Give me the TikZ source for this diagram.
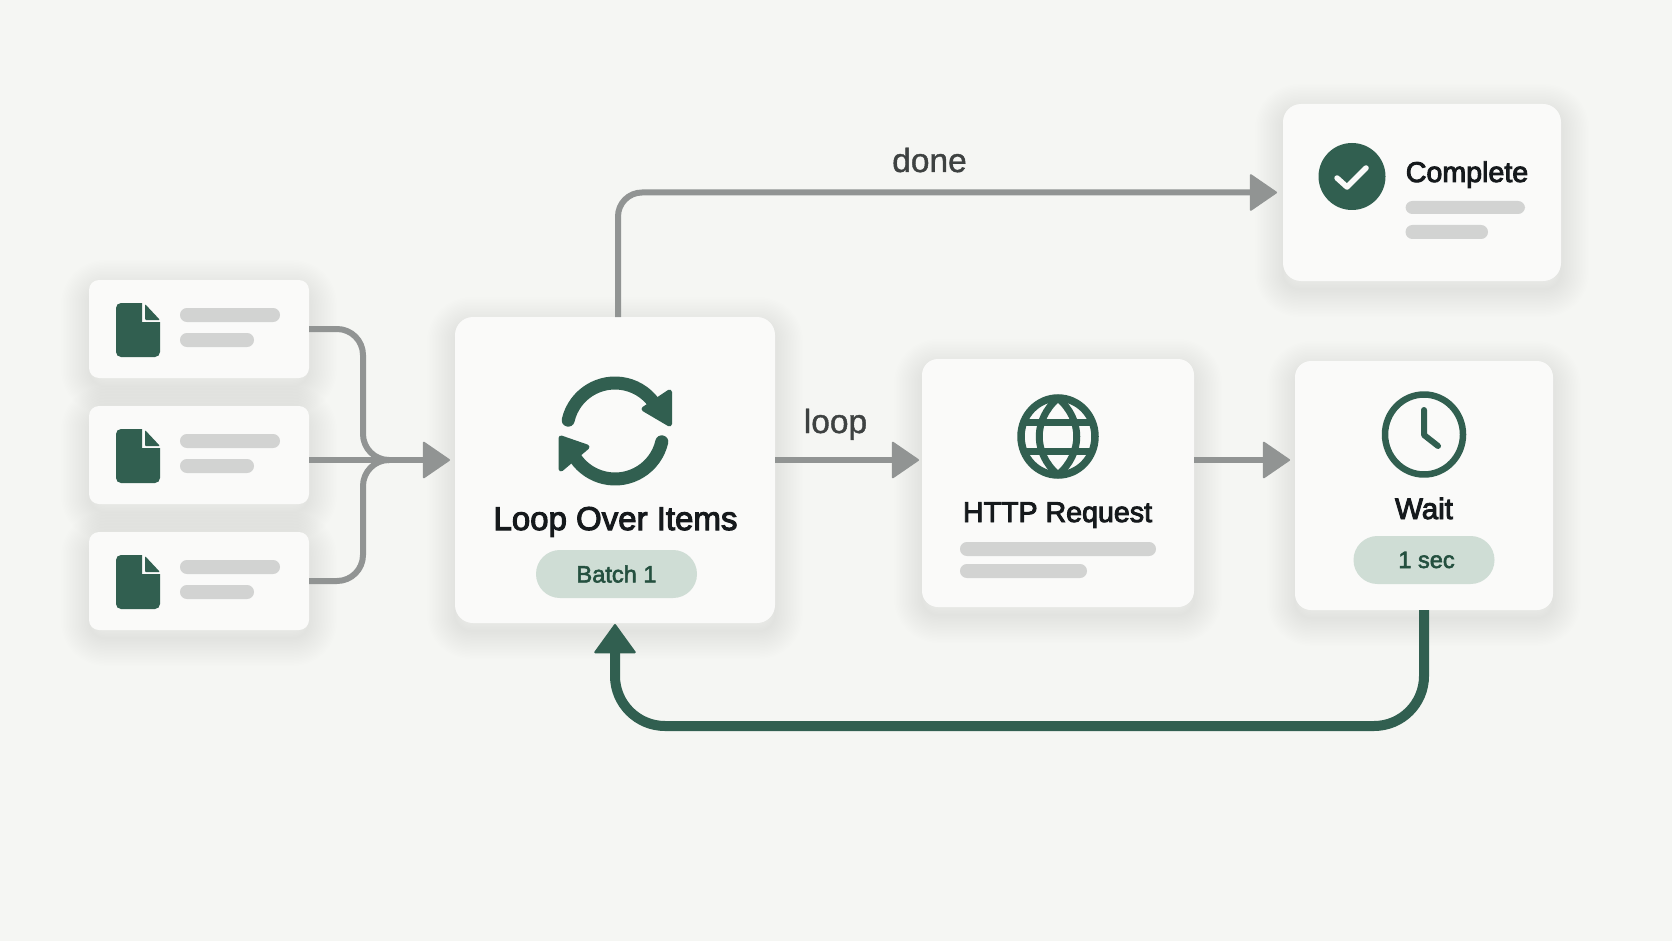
\documentclass[tikz,border=0pt]{standalone}
\usepackage{fontspec}
\usepackage{xcolor}
\usetikzlibrary{
    positioning,
    calc,
    arrows.meta,
    backgrounds
}
\setmainfont[FakeBold=1.2]{Liberation Sans}
\newfontfamily\titlefont[FakeBold=3.2]{Liberation Sans}
\newfontfamily\pillfont[FakeBold=2.4]{Liberation Sans}
\definecolor{Paper}{HTML}{F5F6F3}
\definecolor{CardWhite}{HTML}{FAFAF9}
\definecolor{GreenDark}{HTML}{315F50}
\definecolor{GreenPale}{HTML}{CFDDD5}
\definecolor{GreenText}{HTML}{24503F}
\definecolor{BarGrey}{HTML}{D2D3D2}
\definecolor{LineGrey}{HTML}{919493}
\definecolor{InkDark}{HTML}{15191C}
\definecolor{InkSoft}{HTML}{3E4241}
\tikzset{
    card/.style={
        fill=CardWhite,
        rounded corners=16pt,
        inner sep=0pt,
        outer sep=0pt
    },
    bar/.style={
        fill=BarGrey,
        rounded corners=6.9pt,
        minimum height=14pt,
        inner sep=0pt,
        outer sep=0pt
    },
    pill/.style={
        fill=GreenPale,
        rounded corners=23.9pt,
        minimum height=48pt,
        inner sep=0pt,
        outer sep=0pt,
        text=GreenText,
        font=\pillfont\fontsize{23.6}{28}\selectfont
    },
    cardtitle/.style={
        anchor=base,
        text=InkDark,
        inner sep=0pt,
        font=\titlefont\fontsize{28.6}{34}\selectfont
    },
    flowlabel/.style={
        anchor=base,
        text=InkSoft,
        inner sep=0pt,
        font=\fontsize{33.5}{40}\selectfont
    },
    flowline/.style={
        draw=LineGrey,
        line width=6pt,
        -{Triangle[length=28pt,width=38pt,line width=2pt,round]}
    },
    feedline/.style={
        draw=LineGrey,
        line width=6pt
    },
    returnline/.style={
        draw=GreenDark,
        line width=10pt,
        rounded corners=50pt,
        -{Triangle[length=30pt,width=43pt,line width=2pt,round]}
    },
    iconline/.style={
        draw=GreenDark,
        line cap=round,
        line join=round
    },
    iconhead/.style={
        fill=GreenDark,
        draw=GreenDark,
        line width=5pt,
        line join=round
    }
}
\newcommand{\softshadow}[1]{
    \foreach \spread in {2,5,...,56} {
        \draw[black, opacity=0.0032, line width=\spread pt, rounded corners=16pt]
            ($(#1.north west)+(0,8)$) rectangle ($(#1.south east)+(0,8)$);
    }
}
\newcommand{\filecard}[2]{
    \node[
        card,
        rounded corners=10pt,
        minimum width=220pt,
        minimum height=98pt,
        anchor=north west
    ] (#1) at (89,#2) {};

    \node[
        bar,
        minimum width=100pt,
        below right=28pt and 91pt of #1.north west
    ] (#1bara) {};

    \node[
        bar,
        minimum width=74pt,
        below right=53pt and 91pt of #1.north west
    ] (#1barb) {};

    \begin{scope}[shift={(89,#2)}]
        \fill[GreenDark, rounded corners=5pt]
            (27,50) -- (27,23) [sharp corners] -- (53,23) -- (53,42) -- (71,42)
            [rounded corners=5pt] -- (71,77) -- (27,77) -- cycle;
        \fill[GreenDark, rounded corners=1pt]
            (56,24) -- (71,40) -- (56,40) -- cycle;
    \end{scope}
}

\begin{document}
\begin{tikzpicture}[x=1pt, y=-1pt]

    \useasboundingbox (0,0) rectangle (1672,941);

    \filecard{filea}{280}
    \filecard{fileb}{406}
    \filecard{filec}{532}

    % main cards
    \node[
        card,
        rounded corners=18pt,
        minimum width=320pt,
        minimum height=306pt
    ] (loop) at (615,470) {};

    \node[
        card,
        minimum width=272pt,
        minimum height=248pt
    ] (http) at (1058,483) {};

    \node[
        card,
        minimum width=258pt,
        minimum height=249pt
    ] (wait) at (1424,485.5) {};

    \node[
        card,
        rounded corners=18pt,
        minimum width=278pt,
        minimum height=177pt
    ] (complete) at (1422,192.5) {};

    \begin{scope}[on background layer]
        \fill[Paper] (0,0) rectangle (1672,941);
        \softshadow{filea}
        \softshadow{fileb}
        \softshadow{filec}
        \softshadow{loop}
        \softshadow{http}
        \softshadow{wait}
        \softshadow{complete}
    \end{scope}

    % loop card
    \draw[iconline, line width=13pt]
        (568.2,420.2) arc[start angle=167, end angle=30, radius=48pt];
    \draw[iconline, line width=13pt]
        (661.8,441.8) arc[start angle=-13, end angle=-145, radius=48pt];
    \filldraw[iconhead] (644,409) -- (669.5,392) -- (669.5,424) -- cycle;
    \filldraw[iconhead] (561,438) -- (561,469) -- (587,447) -- cycle;

    \node[cardtitle, font=\titlefont\fontsize{33}{40}\selectfont] (looptitle) at (615.5,530) {Loop Over Items};

    \node[
        pill,
        minimum width=161pt
    ] (looppill) at (616.5,574) {Batch 1};

    % http card
    \draw[iconline, line width=7.5pt] (1058,436.5) ellipse[x radius=37pt, y radius=38.5pt];
    \draw[iconline, line width=7pt, line cap=butt]
        (1058,398) .. controls (1033,420) and (1033,453) .. (1058,475)
        .. controls (1083,453) and (1083,420) .. (1058,398) -- cycle;
    \draw[iconline, line width=7pt, line cap=butt] (1025,422) -- (1091,422);
    \draw[iconline, line width=7pt, line cap=butt] (1025,451) -- (1091,451);

    \node[cardtitle] (httptitle) at (1057.5,522) {HTTP Request};

    \node[
        bar,
        minimum width=196pt,
        below right=183pt and 38pt of http.north west
    ] (httpbara) {};

    \node[
        bar,
        minimum width=127pt,
        below right=205pt and 38pt of http.north west
    ] (httpbarb) {};

    % wait card
    \draw[iconline, line width=6.5pt] (1424,434.5) ellipse[x radius=39pt, y radius=40pt];
    \draw[iconline, line width=6pt] (1424,410) -- (1424,435) -- (1438,446);

    \node[cardtitle, font=\titlefont\fontsize{29.5}{36}\selectfont] (waittitle) at (1424,519) {Wait};

    \node[
        pill,
        minimum width=141pt
    ] (waitpill) at (1424,560) {\hspace*{5pt}1 sec};

    % complete card
    \fill[GreenDark] (1352,176.5) circle[radius=33.5pt];
    \draw[line width=5.5pt, draw=CardWhite, line cap=round, line join=round]
        (1337,178) -- (1347,187) -- (1366,168);

    \node[cardtitle] (completetitle) at (1467,182) {Complete};

    \node[
        bar,
        minimum width=119.5pt,
        minimum height=13pt,
        below right=97pt and 122.5pt of complete.north west
    ] (completebara) {};

    \node[
        bar,
        minimum width=82.5pt,
        below right=121pt and 122.5pt of complete.north west
    ] (completebarb) {};

    % connectors
    \coordinate (merge) at (388,460);
    \coordinate (trunk) at (363,460);
    \coordinate (backrail) at (1000,726);

    \draw[feedline, rounded corners=26pt]
        (filea.east) -- (trunk |- filea.east) -- (trunk) -- (merge);

    \draw[feedline, rounded corners=26pt]
        (filec.east) -- (trunk |- filec.east) -- (trunk) -- (merge);

    \draw[flowline, shorten >=5pt]
        (fileb.east |- merge) -- (loop.west |- merge);

    \draw[flowline, shorten >=3pt]
        (loop.east |- merge) -- (http.west |- merge);

    \draw[flowline, shorten >=5pt]
        (http.east |- merge) -- (wait.west |- merge);

    \draw[flowline, rounded corners=24pt, shorten >=6pt]
        ([xshift=3pt]loop.north) |- (complete.west);

    \draw[returnline]
        (wait.south) |- (backrail) -| ([yshift=-1pt]loop.south);

    % labels
    \node[flowlabel] (donelabel) at (929.5,172) {done};
    \node[flowlabel] (looplabel) at (835.5,433) {loop};

\end{tikzpicture}
\end{document}
